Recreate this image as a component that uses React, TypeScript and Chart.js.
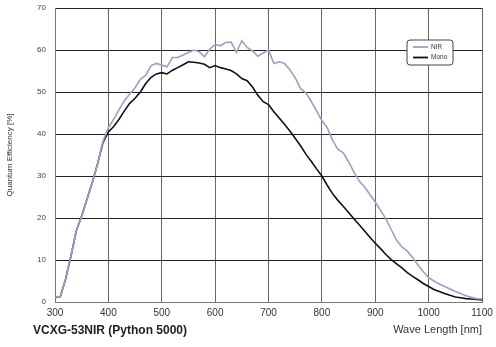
import React, { useEffect, useRef } from "react";
import { Chart, registerables } from "chart.js";

Chart.register(...registerables);

const wavelengths = [
  300, 310, 320, 330, 340, 350, 360, 370, 380, 390,
  400, 410, 420, 430, 440, 450, 460, 470, 480, 490,
  500, 510, 520, 530, 540, 550, 560, 570, 580, 590,
  600, 610, 620, 630, 640, 650, 660, 670, 680, 690,
  700, 710, 720, 730, 740, 750, 760, 770, 780, 790,
  800, 810, 820, 830, 840, 850, 860, 870, 880, 890,
  900, 910, 920, 930, 940, 950, 960, 970, 980, 990,
  1000, 1010, 1020, 1030, 1040, 1050, 1060, 1070, 1080, 1090, 1100,
];

const nirQE = [
  1.0, 1.3, 5.5, 11, 17, 20.5, 24.5, 28.5, 33, 38.3,
  41.5, 43.5, 45.8, 47.9, 49.5, 51, 53, 54, 56.3, 56.8,
  56.4, 56, 58.2, 58.2, 58.8, 59.4, 60, 59.6, 58.4, 60.2,
  61.3, 61, 61.8, 61.9, 59.4, 62.2, 60.6, 59.8, 58.5, 59.3,
  60, 56.8, 57.2, 56.8, 55.3, 53.4, 50.8, 49.8, 47.8, 45.5,
  43.2, 41.5, 38.5, 36.4, 35.5, 33.4, 30.9, 28.8, 27.4, 25.6,
  23.8, 21.8, 19.8, 17.2, 14.7, 13.1, 12.1, 10.6, 8.8, 7.2,
  5.8, 5.0, 4.3, 3.7, 3.1, 2.5, 2.0, 1.5, 1.1, 0.8, 0.7,
];

const monoQE = [
  1.0, 1.3, 5.5, 11, 17, 20.5, 24.5, 28.5, 33, 38,
  40.5, 41.8, 43.5, 45.5, 47.3, 48.5, 50, 52, 53.5, 54.3,
  54.6, 54.3, 55.2, 55.8, 56.5, 57.2, 57.1, 56.9, 56.6, 55.8,
  56.3, 55.8, 55.5, 55.1, 54.3, 53.2, 52.7, 51.2, 49.2, 47.7,
  47.0, 45.3, 43.8, 42.3, 40.7, 39, 37.2, 35.2, 33.5, 31.7,
  30.0, 27.8, 25.8, 24.2, 22.8, 21.3, 19.8, 18.4, 16.9, 15.4,
  14.0, 12.7, 11.3, 10.1, 9.1, 8.1, 7.0, 6.1, 5.3, 4.4,
  3.7, 3.0, 2.5, 2.0, 1.6, 1.2, 1.0, 0.8, 0.7, 0.6, 0.5,
];

const seriesNames = ["NIR", "Mono"];
const seriesColors = ["#a59bc8", "#111111"];
const chartTitle = "VCXG-53NIR (Python 5000)";
const xTitle = "Wave Length [nm]";
const yTitle = "Quantum Efficiency [%]";

const FONT = "'Liberation Sans', Arial, sans-serif";

const overlayPlugin = {
  id: "overlay",
  afterDraw(chart: any) {
    const ctx = chart.ctx;
    ctx.save();
    ctx.font = `bold 12px ${FONT}`;
    ctx.fillStyle = "#222";
    ctx.textAlign = "left";
    ctx.textBaseline = "middle";
    ctx.fillText(chartTitle, 33, 331);

    const bx = 407, by = 40, bw = 46, bh = 25, r = 3;
    ctx.beginPath();
    ctx.moveTo(bx + r, by);
    ctx.lineTo(bx + bw - r, by);
    ctx.quadraticCurveTo(bx + bw, by, bx + bw, by + r);
    ctx.lineTo(bx + bw, by + bh - r);
    ctx.quadraticCurveTo(bx + bw, by + bh, bx + bw - r, by + bh);
    ctx.lineTo(bx + r, by + bh);
    ctx.quadraticCurveTo(bx, by + bh, bx, by + bh - r);
    ctx.lineTo(bx, by + r);
    ctx.quadraticCurveTo(bx, by, bx + r, by);
    ctx.closePath();
    ctx.fillStyle = "#ffffff";
    ctx.fill();
    ctx.strokeStyle = "#444";
    ctx.lineWidth = 1;
    ctx.stroke();

    ctx.font = `6.5px ${FONT}`;
    ctx.textBaseline = "middle";
    seriesNames.forEach((name, i) => {
      const ly = 47 + i * 10.5;
      ctx.beginPath();
      ctx.moveTo(413, ly);
      ctx.lineTo(428, ly);
      ctx.strokeStyle = seriesColors[i];
      ctx.lineWidth = 1.8;
      ctx.stroke();
      ctx.fillStyle = "#333";
      ctx.fillText(name, 431, ly);
    });
    ctx.restore();
  },
};

export default function App() {
  const ref = useRef<HTMLCanvasElement | null>(null);

  useEffect(() => {
    if (!ref.current) return;
    const chart = new Chart(ref.current, {
      type: "line",
      data: {
        datasets: [
          {
            label: seriesNames[0],
            data: wavelengths.map((w, i) => ({ x: w, y: nirQE[i] })),
            borderColor: seriesColors[0],
            borderWidth: 1.6,
            pointRadius: 0,
            pointHoverRadius: 0,
            tension: 0,
          },
          {
            label: seriesNames[1],
            data: wavelengths.map((w, i) => ({ x: w, y: monoQE[i] })),
            borderColor: seriesColors[1],
            borderWidth: 1.6,
            pointRadius: 0,
            pointHoverRadius: 0,
            tension: 0,
          },
        ],
      },
      options: {
        responsive: false,
        animation: false,
        layout: { autoPadding: false, padding: { top: 8, right: 14, bottom: 0, left: 0 } },
        plugins: {
          legend: { display: false },
          tooltip: { enabled: false },
        },
        scales: {
          x: {
            type: "linear",
            min: 300,
            max: 1100,
            border: { display: true, color: "#777", width: 1 },
            grid: {
              color: "#666",
              lineWidth: 1,
              drawTicks: true,
              tickLength: 5,
              tickColor: "rgba(0,0,0,0)",
            },
            ticks: {
              stepSize: 100,
              padding: 0,
              color: "#333",
              font: { family: FONT, size: 10 },
              maxRotation: 0,
              callback: (v: any) => String(v),
            },
            title: {
              display: true,
              text: xTitle,
              align: "end",
              color: "#333",
              font: { family: FONT, size: 11 },
              padding: { top: 4, bottom: 10 },
            },
            afterFit: (s: any) => {
              s.height = 45;
            },
          },
          y: {
            min: 0,
            max: 70,
            border: { display: true, color: "#777", width: 1 },
            grid: {
              color: "#222",
              lineWidth: 1,
              drawTicks: true,
              tickLength: 9,
              tickColor: "rgba(0,0,0,0)",
            },
            ticks: {
              stepSize: 10,
              padding: 0,
              color: "#444",
              font: { family: FONT, size: 8 },
            },
            title: {
              display: true,
              text: yTitle,
              color: "#333",
              font: { family: FONT, size: 8 },
              padding: { top: 5, bottom: 0 },
            },
            afterFit: (s: any) => {
              s.width = 55;
            },
          },
        },
      },
      plugins: [overlayPlugin],
    });
    return () => chart.destroy();
  }, []);

  return (
    <div style={{ position: "fixed", left: 0, top: 0, width: 496, height: 347, background: "#fff" }}>
      <canvas ref={ref} width={496} height={347} />
    </div>
  );
}
